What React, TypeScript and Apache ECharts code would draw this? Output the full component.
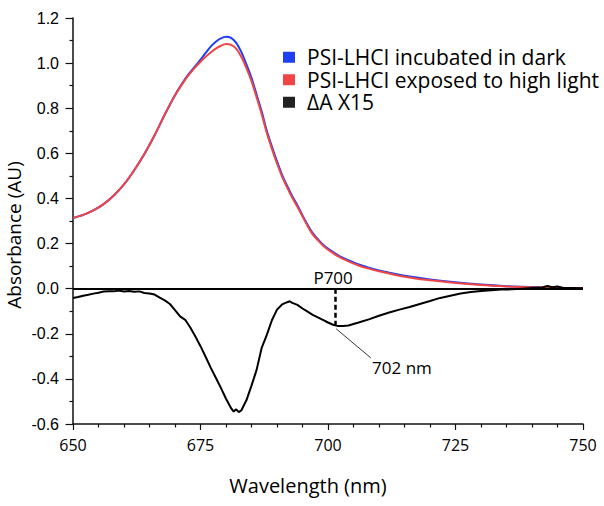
import React, { useEffect, useRef } from "react";
import * as echarts from "echarts";

// Wavelengths (nm) and absorbance for the two spectra
const darkWl = [650, 652, 654, 656, 658, 660, 662, 664, 666, 668, 670, 672, 673, 674, 675, 676, 677, 678, 679, 680, 681, 682, 683, 684, 685, 686, 687, 688, 689, 690, 691, 692, 693, 694, 695, 696, 697, 698, 699, 700, 702, 704, 706, 708, 710, 713, 716, 720, 725, 730, 735, 740, 745, 750];
const darkAbs = [0.313, 0.327, 0.347, 0.375, 0.413, 0.462, 0.525, 0.597, 0.68, 0.772, 0.858, 0.93, 0.96, 0.988, 1.015, 1.045, 1.073, 1.095, 1.11, 1.117, 1.112, 1.09, 1.05, 0.995, 0.935, 0.86, 0.785, 0.7, 0.63, 0.565, 0.505, 0.455, 0.41, 0.37, 0.325, 0.283, 0.246, 0.22, 0.196, 0.178, 0.148, 0.126, 0.107, 0.093, 0.081, 0.066, 0.054, 0.041, 0.028, 0.018, 0.011, 0.007, 0.004, 0.002];

const lightWl = [650, 652, 654, 656, 658, 660, 662, 664, 666, 668, 670, 672, 673, 674, 675, 676, 677, 678, 679, 680, 681, 682, 683, 684, 685, 686, 687, 688, 689, 690, 691, 692, 693, 694, 695, 696, 697, 698, 699, 700, 702, 704, 706, 708, 710, 713, 716, 720, 725, 730, 735, 740, 745, 750];
const lightAbs = [0.313, 0.327, 0.347, 0.375, 0.413, 0.462, 0.525, 0.597, 0.68, 0.772, 0.857, 0.927, 0.956, 0.982, 1.006, 1.028, 1.047, 1.064, 1.077, 1.085, 1.081, 1.064, 1.028, 0.978, 0.92, 0.848, 0.773, 0.69, 0.62, 0.555, 0.497, 0.448, 0.403, 0.363, 0.32, 0.278, 0.241, 0.215, 0.191, 0.173, 0.143, 0.121, 0.103, 0.089, 0.077, 0.062, 0.05, 0.037, 0.025, 0.016, 0.01, 0.006, 0.004, 0.002];

// Difference spectrum x15
const diffWl = [650, 651, 652, 653, 654, 655, 656, 657, 658, 659, 660, 661, 662, 663, 664, 665, 666, 667, 668, 669, 670, 671, 672, 673, 674, 675, 676, 677, 678, 679, 680, 681, 681.5, 682, 682.5, 683, 684, 685, 686, 687, 688, 689, 690, 691, 692, 692.5, 693, 694, 695, 696, 697, 698, 699, 700, 701, 702, 703, 704, 706, 708, 710, 712, 714, 716, 718, 720, 722, 724, 726, 728, 730, 732, 734, 736, 738, 740, 742, 743, 744, 745, 746, 748, 750];
const diffAbs = [-0.041, -0.037, -0.031, -0.027, -0.022, -0.018, -0.013, -0.011, -0.012, -0.008, -0.013, -0.01, -0.014, -0.012, -0.019, -0.021, -0.026, -0.04, -0.052, -0.068, -0.095, -0.123, -0.138, -0.172, -0.212, -0.255, -0.302, -0.35, -0.395, -0.44, -0.488, -0.53, -0.545, -0.535, -0.547, -0.54, -0.495, -0.43, -0.36, -0.262, -0.205, -0.14, -0.093, -0.07, -0.06, -0.056, -0.063, -0.072, -0.088, -0.102, -0.116, -0.127, -0.138, -0.15, -0.16, -0.166, -0.165, -0.163, -0.15, -0.136, -0.12, -0.106, -0.093, -0.081, -0.068, -0.055, -0.041, -0.031, -0.021, -0.015, -0.01, -0.007, -0.004, -0.003, 0.0, 0.003, 0.005, 0.012, 0.006, 0.01, 0.004, 0.003, 0.002];

const xTicks = { min: 650, max: 750, step: 25 };
const yTicks = { min: -0.6, max: 1.2, step: 0.2 };

const seriesNames = [
  "PSI-LHCI incubated in dark",
  "PSI-LHCI exposed to high light",
  "ΔA X15",
];

const p700Wl = 701.5;
const p700Min = -0.163;

const zip = (xs: number[], ys: number[]) => xs.map((x, i) => [x, ys[i]]);

export default function App() {
  const ref = useRef<HTMLDivElement>(null);
  useEffect(() => {
    if (!ref.current) return;
    const chart = echarts.init(ref.current, undefined, { renderer: "svg" });
    const sans = "Open Sans";
    chart.setOption({
      animation: false,
      backgroundColor: "#ffffff",
      grid: { left: 73, right: 21, top: 18, bottom: 82 },
      legend: {
        orient: "vertical",
        left: 283,
        top: 46,
        padding: 0,
        itemGap: 0,
        itemWidth: 12,
        itemHeight: 11,
        icon: "rect",
        data: seriesNames,
        textStyle: {
          fontFamily: sans,
          fontSize: 21,
          lineHeight: 22.5,
          color: "#000",
          padding: [0, 0, 0, 7],
        },
      },
      xAxis: {
        type: "value",
        min: xTicks.min,
        max: xTicks.max,
        interval: xTicks.step,
        axisLine: { onZero: false, lineStyle: { color: "#111", width: 1.5 } },
        axisTick: { length: 6, lineStyle: { color: "#111", width: 1.2 } },
        minorTick: { show: true, splitNumber: 5, length: 3.5, lineStyle: { color: "#111", width: 1.2 } },
        splitLine: { show: false },
        axisLabel: { margin: 13, fontFamily: sans, fontSize: 16, color: "#000" },
      },
      yAxis: {
        type: "value",
        min: yTicks.min,
        max: yTicks.max,
        interval: yTicks.step,
        axisLine: { show: true, onZero: false, lineStyle: { color: "#111", width: 1.5 } },
        axisTick: { show: true, length: 7.5, lineStyle: { color: "#111", width: 1.2 } },
        minorTick: { show: true, splitNumber: 2, length: 3.5, lineStyle: { color: "#111", width: 1.2 } },
        splitLine: { show: false },
        axisLabel: {
          margin: 14,
          fontFamily: "Liberation Sans",
          fontSize: 16,
          color: "#000",
          formatter: (v: number) => (Math.abs(v) < 1e-9 ? 0 : v).toFixed(1),
        },
      },
      graphic: [
        {
          type: "text",
          x: 308,
          y: 485,
          style: {
            text: "Wavelength (nm)",
            fontFamily: sans,
            fontSize: 20,
            fill: "#000",
            align: "center",
            verticalAlign: "middle",
          },
        },
        {
          type: "text",
          x: 14,
          y: 235,
          rotation: Math.PI / 2,
          style: {
            text: "Absorbance (AU)",
            fontFamily: sans,
            fontSize: 19,
            fill: "#000",
            align: "center",
            verticalAlign: "middle",
          },
        },
      ],
      series: [
        {
          name: seriesNames[0],
          type: "line",
          data: zip(darkWl, darkAbs),
          smooth: 0.3,
          showSymbol: false,
          color: "#1e3ff2",
          lineStyle: { width: 2, color: "#1e3ff2" },
        },
        {
          name: seriesNames[1],
          type: "line",
          data: zip(lightWl, lightAbs),
          smooth: 0.3,
          showSymbol: false,
          color: "#f04545",
          lineStyle: { width: 2, color: "#f04545" },
        },
        {
          name: seriesNames[2],
          type: "line",
          data: zip(diffWl, diffAbs),
          showSymbol: false,
          color: "#222222",
          lineStyle: { width: 2, color: "#000" },
          markLine: {
            silent: true,
            symbol: "none",
            label: { show: false },
            data: [
              { yAxis: 0, lineStyle: { color: "#000", width: 2, type: "solid" } },
              [
                { coord: [p700Wl, 0], lineStyle: { color: "#000", width: 2.5, type: [5, 3] } },
                { coord: [p700Wl, p700Min] },
              ],
              [
                { coord: [701.6, -0.178], lineStyle: { color: "#000", width: 0.8, type: "solid" } },
                { coord: [708.4, -0.307] },
              ],
            ],
          },
          markPoint: {
            silent: true,
            symbol: "circle",
            symbolSize: 0,
            data: [
              {
                coord: [701.0, 0.049],
                label: { show: true, position: "inside", formatter: "P700", fontFamily: sans, fontSize: 17, color: "#000" },
              },
              {
                coord: [714.5, -0.351],
                label: { show: true, position: "inside", formatter: "702 nm", fontFamily: sans, fontSize: 17, color: "#000" },
              },
            ],
          },
        },
      ],
    });
    return () => chart.dispose();
  }, []);
  return (
    <div
      ref={ref}
      style={{ position: "fixed", left: 0, top: 0, width: 604, height: 506, background: "#fff" }}
    />
  );
}
